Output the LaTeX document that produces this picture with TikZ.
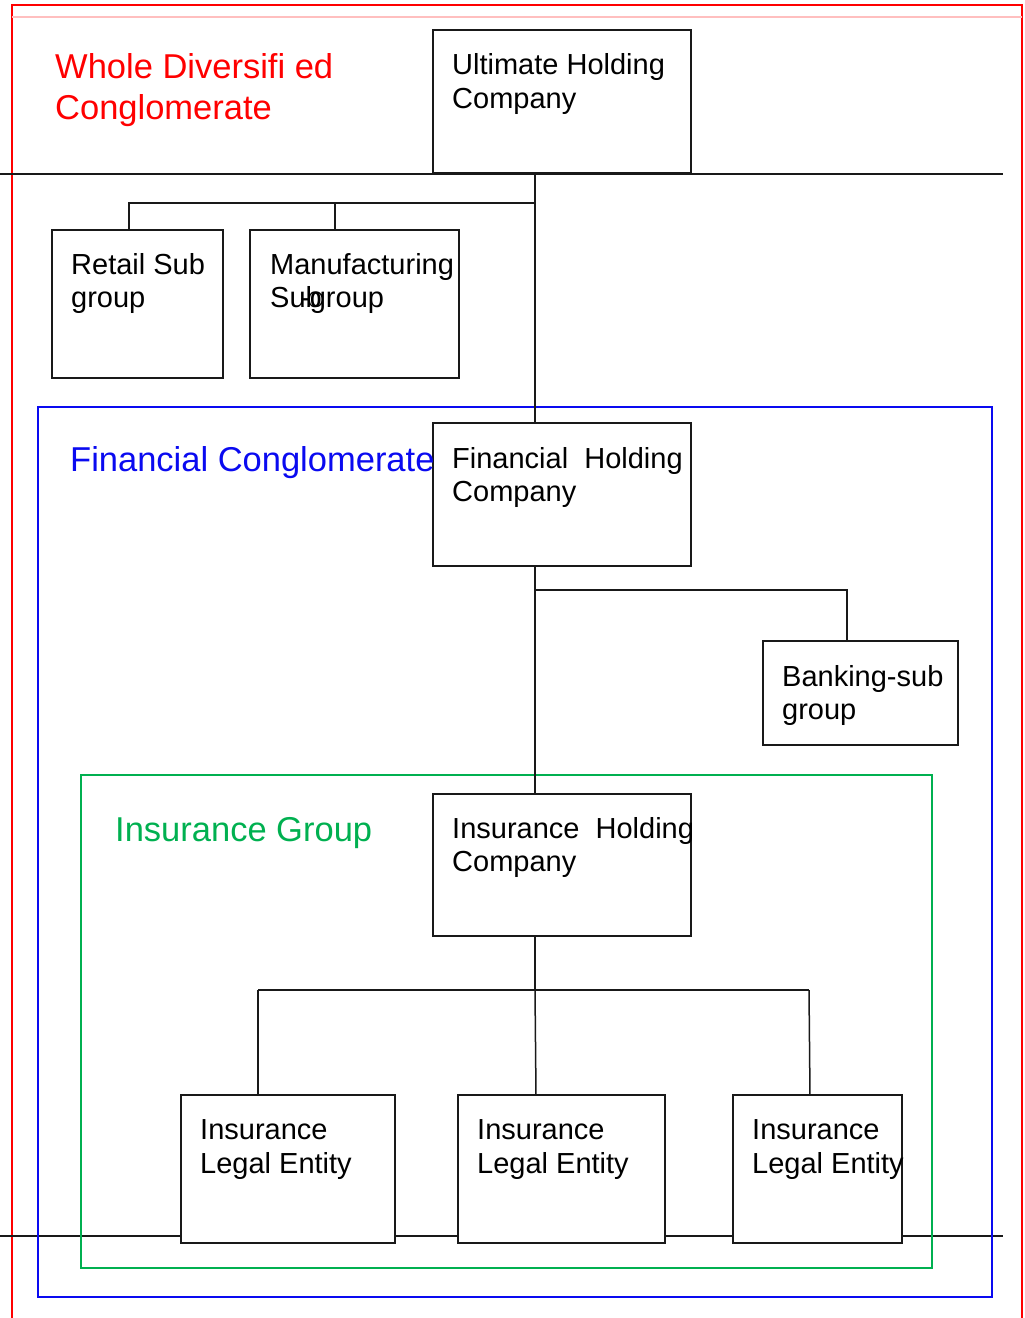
\documentclass[tikz,border=0pt]{standalone}
\usepackage{fontspec}
\setmainfont{Liberation Sans}
\definecolor{grn}{RGB}{0,176,80}
\definecolor{blu}{RGB}{10,10,240}
\begin{document}
\begin{tikzpicture}[x=1pt,y=-1pt,
  box/.style={draw=black!90,line width=1.5pt,anchor=north west,inner sep=0pt,outer sep=0pt},
  txt/.style={anchor=base west,inner sep=0pt,font=\fontsize{29}{34}\selectfont},
  ttl/.style={anchor=base west,inner sep=0pt,font=\fontsize{34.5}{41}\selectfont},
  conn/.style={line width=1.5pt,black!90},
  redl/.style={red,line width=1.5pt}]
\useasboundingbox (0,0) rectangle (1025,1318);
% outer red frame
\draw[redl] (12,1318) -- (12,5) -- (1022,5) -- (1022,1318);
\draw[red!25,line width=1.5pt] (12,17) -- (1022,17);
% horizontal separators
\coordinate (hl1) at (0,174); \coordinate (hr1) at (1003,174);
\coordinate (hl2) at (0,1236); \coordinate (hr2) at (1003,1236);
\draw[conn] (hl1) -- (hr1);
\draw[conn] (hl2) -- (hr2);
% blue and green frames
\draw[blu,line width=1.5pt] (38,407) rectangle (992,1297);
\draw[grn,line width=1.5pt] (81,775) rectangle (932,1268);
% boxes
\node[box,fill=white,minimum width=258pt,minimum height=143pt] (uhc) at (433,30) {};
\node[box,minimum width=171pt,minimum height=148pt] (ret) at (52,230) {};
\node[box,minimum width=209pt,minimum height=148pt] (man) at (250,230) {};
\node[box,fill=white,minimum width=258pt,minimum height=143pt] (fhc) at (433,423) {};
\node[box,minimum width=195pt,minimum height=104pt] (bank) at (763,641) {};
\node[box,fill=white,minimum width=258pt,minimum height=142pt] (ihc) at (433,794) {};
\node[box,fill=white,minimum width=214pt,minimum height=148pt] (le1) at (181,1095) {};
\node[box,fill=white,minimum width=207pt,minimum height=148pt] (le2) at (458,1095) {};
\node[box,fill=white,minimum width=169pt,minimum height=148pt] (le3) at (733,1095) {};
% connectors
\coordinate (j1) at (535,203);
\draw[conn] (uhc.south -| j1) -- (fhc.north -| j1);
\draw[conn] (j1) -- (129,203) -- (ret.north -| 129,0);
\draw[conn] (335,203) -- (man.north -| 335,0);
\coordinate (j2) at (535,590);
\draw[conn] (fhc.south -| j2) -- (ihc.north -| j2);
\draw[conn] (j2) -- (847,590) -- (bank.north -| 847,0);
\coordinate (j3) at (535,990);
\draw[conn] (ihc.south -| j3) -- (j3);
\draw[conn] (258,990) -- (809,990);
\draw[conn] (258,990) -- (le1.north -| 258,0);
\draw[conn] (j3) -- (le2.north -| 536,0);
\draw[conn] (809,990) -- (le3.north -| 810,0);
% titles
\node[ttl,text=red] (t1) at (55,78) {Whole Diversifi ed};
\node[ttl,text=red] (t2) at (55,119) {Conglomerate};
\node[ttl,text=blu] (t3) at (70,471) {Financial Conglomerate};
\node[ttl,text=grn] (t4) at (115,841) {Insurance Group};
% box texts
\node[txt] (a1) at (452,74) {Ultimate Holding};
\node[txt] (a2) at (452,108) {Company};
\node[txt] (b1) at (71,274) {Retail Sub};
\node[txt] (b2) at (71,307) {group};
\node[txt] (c1) at (270,274) {Manufacturing};
\node[txt] (c2) at (270,307) {Sub};
\node[txt] (c3) at (300,307) {-group};
\node[txt] (d1) at (452,468) {Financial\ \ Holding};
\node[txt] (d2) at (452,501) {Company};
\node[txt] (e1) at (782,686) {Banking-sub};
\node[txt] (e2) at (782,719) {group};
\node[txt] (f1) at (452,838) {Insurance\ \ Holding};
\node[txt] (f2) at (452,871) {Company};
\node[txt] (g1) at (200,1139) {Insurance};
\node[txt] (g2) at (200,1173) {Legal Entity};
\node[txt] (h1) at (477,1139) {Insurance};
\node[txt] (h2) at (477,1173) {Legal Entity};
\node[txt] (i1) at (752,1139) {Insurance};
\node[txt] (i2) at (752,1173) {Legal Entity};
\end{tikzpicture}
\end{document}
